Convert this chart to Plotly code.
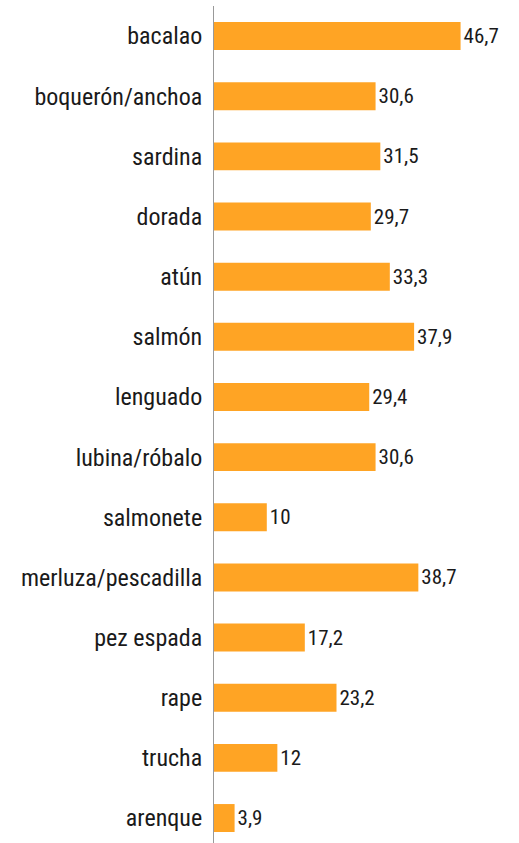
import plotly.graph_objects as go

categories = ["bacalao", "boquerón/anchoa", "sardina", "dorada", "atún", "salmón",
              "lenguado", "lubina/róbalo", "salmonete", "merluza/pescadilla",
              "pez espada", "rape", "trucha", "arenque"]
values = [46.7, 30.6, 31.5, 29.7, 33.3, 37.9, 29.4, 30.6, 10, 38.7, 17.2, 23.2, 12, 3.9]

FONT = "Roboto Condensed, Liberation Sans Narrow, Arial Narrow, sans-serif"

fig = go.Figure(go.Bar(
    x=values, y=categories, orientation="h",
    marker=dict(color="#FFA424", line=dict(width=0)),
    text=[f"{v:g}".replace(".", ",") for v in values],
    textposition="outside", cliponaxis=False,
    textfont=dict(family=FONT, size=21, color="#1a1a1a"),
))

fig.update_layout(
    width=519, height=843,
    margin=dict(l=214, r=41, t=6, b=0),
    paper_bgcolor="white", plot_bgcolor="white",
    bargap=0.535, showlegend=False,
    font=dict(family=FONT, color="#1a1a1a"),
    xaxis=dict(range=[0, 50], visible=False, showgrid=False, zeroline=False),
    yaxis=dict(categoryorder="array", categoryarray=categories,
               range=[13.415, -0.5], showgrid=False, zeroline=False,
               showline=True, linecolor="#999999", linewidth=1,
               ticks="", ticklabelstandoff=6, automargin=False,
               tickfont=dict(family=FONT, size=24, color="#1a1a1a")),
)

fig.write_html("out.html", config={"displayModeBar": False},
               post_script="document.body.style.margin='0';document.body.style.overflow='hidden';")
